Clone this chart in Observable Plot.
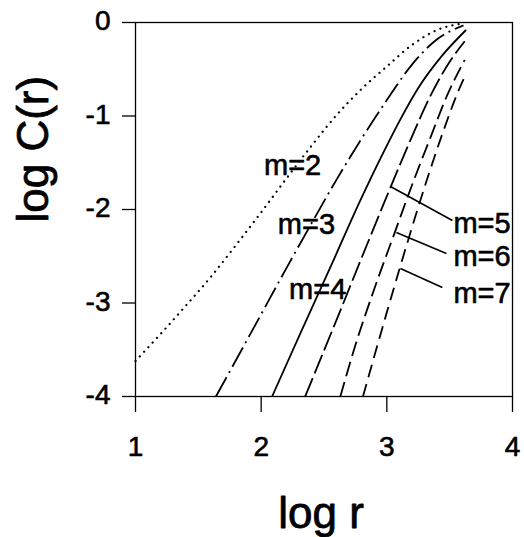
<!DOCTYPE html>
<html>
<head>
<meta charset="utf-8">
<script src="https://cdn.jsdelivr.net/npm/d3@7"></script>
<script src="https://cdn.jsdelivr.net/npm/@observablehq/plot@0.6"></script>
<style>
  html, body { margin: 0; padding: 0; background: #fff; }
  #chart { width: 524px; height: 537px; }
</style>
</head>
<body>
<div id="chart"></div>
<script>
// Tick values and labels
const xTicks = [1, 2, 3, 4];
const xTickLabels = ["1", "2", "3", "4"];
const yTicks = [0, -1, -2, -3, -4];
const yTickLabels = ["0", "-1", "-2", "-3", "-4"];

// Series (log r, log C(r))
const m2X = [1.00, 1.20, 1.40, 1.60, 1.80, 2.00, 2.20, 2.40, 2.60, 2.80, 3.00, 3.20, 3.40, 3.60];
const m2Y = [-3.62, -3.33, -3.03, -2.72, -2.38, -2.03, -1.67, -1.32, -0.99, -0.71, -0.47, -0.24, -0.08, -0.01];

const m3X = [1.64, 1.80, 2.00, 2.20, 2.40, 2.60, 2.80, 3.00, 3.20, 3.40, 3.61];
const m3Y = [-4.00, -3.61, -3.12, -2.63, -2.15, -1.68, -1.24, -0.83, -0.45, -0.18, -0.03];

const m4X = [2.087, 2.31, 2.55, 2.79, 2.98, 3.11, 3.25, 3.43, 3.63];
const m4Y = [-4.00, -3.33, -2.62, -1.90, -1.37, -1.03, -0.70, -0.37, -0.08];

const m5X = [2.35, 2.60, 2.85, 3.03, 3.20, 3.36, 3.50, 3.62];
const m5Y = [-4.00, -3.18, -2.35, -1.76, -1.22, -0.75, -0.42, -0.20];

const m6X = [2.63, 2.75, 2.90, 3.07, 3.20, 3.35, 3.48, 3.62];
const m6Y = [-4.00, -3.45, -2.85, -2.22, -1.74, -1.22, -0.78, -0.40];

const m7X = [2.81, 2.90, 3.00, 3.10, 3.31, 3.45, 3.57, 3.62];
const m7Y = [-4.00, -3.57, -3.10, -2.64, -1.72, -1.16, -0.73, -0.58];

// Curve labels
const inlineNames = ["m=2", "m=3", "m=4"];
const inlineX = [2.25, 2.36, 2.45];
const inlineY = [-1.53, -2.16, -2.86];

const sideNames = ["m=5", "m=6", "m=7"];
const sideX = [3.53, 3.53, 3.53];
const sideY = [-2.15, -2.51, -2.90];

// Leader lines from curve to side label
const leadX1 = [3.029, 3.076, 3.108];
const leadY1 = [-1.754, -2.246, -2.631];
const leadX2 = [3.522, 3.474, 3.442];
const leadY2 = [-2.118, -2.471, -2.834];

const series = [
  {xs: m2X, ys: m2Y, dash: "0.1,6.2", cap: "round", w: 2.2},
  {xs: m3X, ys: m3Y, dash: "22,5,2,5", cap: "butt", w: 1.8},
  {xs: m4X, ys: m4Y, dash: null, cap: "butt", w: 1.8},
  {xs: m5X, ys: m5Y, dash: "20,5", cap: "butt", w: 1.8},
  {xs: m6X, ys: m6Y, dash: "15,6", cap: "butt", w: 1.8},
  {xs: m7X, ys: m7Y, dash: "13,7", cap: "butt", w: 1.8}
];

const font = "'Liberation Sans', Arial, Helvetica, sans-serif";

const lineMarks = series.map(s => {
  const pts = s.xs.map((x, i) => ({x, y: s.ys[i]}));
  const opts = {x: "x", y: "y", stroke: "black", strokeWidth: s.w, strokeLinecap: s.cap, curve: "monotone-x"};
  if (s.dash) { opts.strokeDasharray = s.dash; }
  return Plot.line(pts, opts);
});

const heavy = {fill: "black", stroke: "black", strokeWidth: 0.6};

const chart = Plot.plot({
  width: 524,
  height: 537,
  marginLeft: 135,
  marginRight: 12,
  marginTop: 22,
  marginBottom: 141,
  style: {fontFamily: font, fontSize: "28px", background: "white", color: "black", overflow: "visible"},
  x: {domain: [1, 4]},
  y: {domain: [-4, 0]},
  marks: [
    Plot.frame({stroke: "black", strokeWidth: 1.3}),
    Plot.axisX({ticks: xTicks, tickSize: 16, strokeWidth: 1.3, tickFormat: () => "", label: null}),
    Plot.axisY({ticks: yTicks, tickSize: 13, strokeWidth: 1.3, tickFormat: () => "", label: null}),
    Plot.text(xTicks, {x: d => d, frameAnchor: "bottom", dy: 40, lineAnchor: "top",
      text: (d, i) => xTickLabels[i], fontSize: 28, ...heavy}),
    Plot.text(yTicks, {y: d => d, frameAnchor: "left", dx: -25, dy: -1, textAnchor: "end",
      text: (d, i) => yTickLabels[i], fontSize: 28, ...heavy}),
    ...lineMarks,
    Plot.link(sideNames, {
      x1: (d, i) => leadX1[i], y1: (d, i) => leadY1[i],
      x2: (d, i) => leadX2[i], y2: (d, i) => leadY2[i],
      stroke: "black", strokeWidth: 1.6
    }),
    Plot.text(inlineNames, {
      x: (d, i) => inlineX[i], y: (d, i) => inlineY[i], text: d => d,
      fontSize: 29, textAnchor: "middle", ...heavy
    }),
    Plot.text(sideNames, {
      x: (d, i) => sideX[i], y: (d, i) => sideY[i], text: d => d,
      fontSize: 29, textAnchor: "start", ...heavy
    }),
    Plot.text(["log r"], {text: d => d, frameAnchor: "bottom", dx: -3, dy: 131,
      lineAnchor: "bottom", fontSize: 44, fill: "black", stroke: "black", strokeWidth: 0.8}),
    Plot.text(["log C(r)"], {text: d => d, frameAnchor: "left", dx: -88, dy: 13, rotate: -90,
      lineAnchor: "bottom", fontSize: 44, fill: "black", stroke: "black", strokeWidth: 0.8})
  ]
});

document.getElementById("chart").appendChild(chart);
</script>
</body>
</html>
